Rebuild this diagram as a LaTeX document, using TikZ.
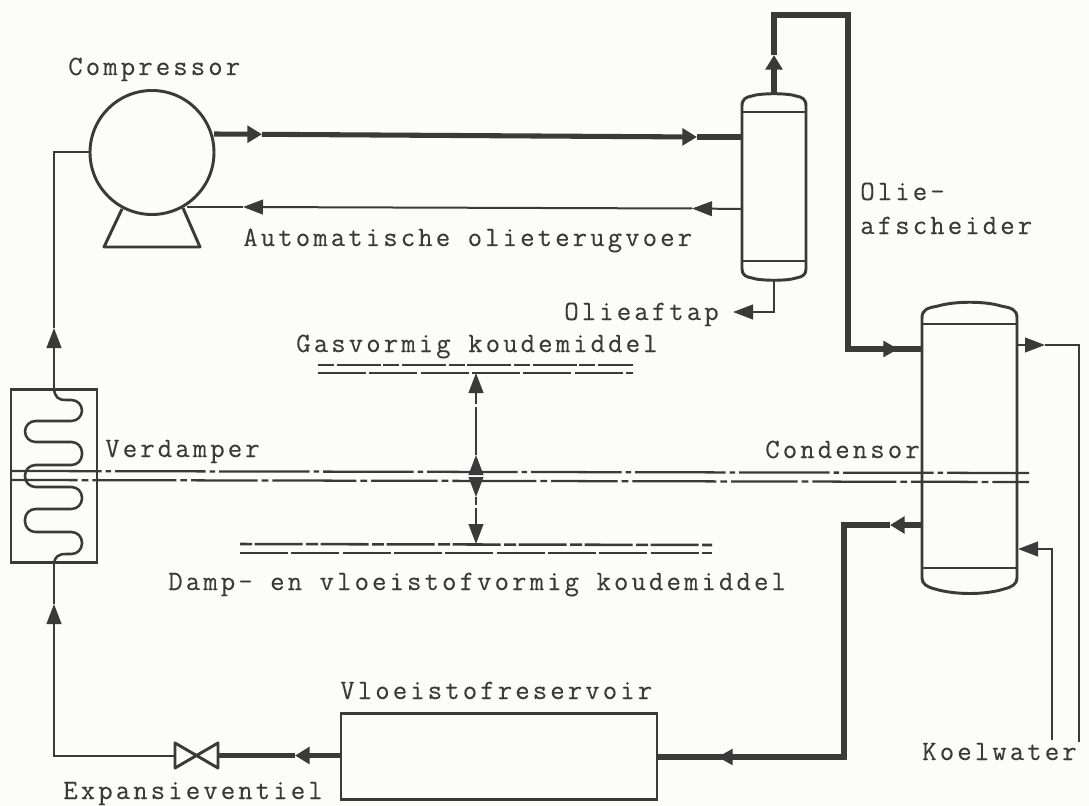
\documentclass[tikz,border=0pt]{standalone}
\usepackage{fontspec}
\newfontfamily\tw[LetterSpace=11,FakeBold=0.12]{Latin Modern Mono}
\usetikzlibrary{arrows.meta}
\definecolor{ink}{HTML}{3A3A3A}
\definecolor{paper}{HTML}{FCFCFB}
\tikzset{
  x=0.75pt,y=-0.75pt,
  fatpipe/.style={draw=ink,line width=4.4pt,miter limit=10},
  midpipe/.style={draw=ink,line width=3.8pt},
  thinpipe/.style={draw=ink,line width=1.5pt},
  outline/.style={draw=ink,line width=2.2pt},
  label/.style={anchor=base west,inner sep=0pt,text=ink,font=\tw\fontsize{21pt}{24pt}\selectfont},
  tipA/.style={-{Triangle[length=15pt,width=11pt,color=ink]}},
  tipB/.style={-{Triangle[length=11pt,width=12.5pt,color=ink]}},
  ghost/.style={inner sep=0pt,outer sep=0pt},
  centerline/.style={draw=ink,line width=1.7pt},
  flowline/.style={draw=ink,line width=1.9pt},
}
\begin{document}
\begin{tikzpicture}
\useasboundingbox (0,0) rectangle (1089,806);
\fill[paper] (0,0) rectangle (1089,806);

% --- equipment
\node[ghost,circle,outline,fill=paper,minimum size=93pt] (comp) at (152,152.5) {};
\draw[outline,line join=round] (122,209) -- (104,247) -- (200,247) -- (183,208);
\node[ghost,rectangle,outline,minimum width=64.5pt,minimum height=129.75pt] (evap) at (54,476) {};
\node[ghost,rectangle,outline,minimum width=237pt,minimum height=64.5pt] (res) at (499,756.5) {};
\node[ghost,minimum width=32.25pt,minimum height=18.75pt] (valve) at (196.5,755.5) {};
\draw[outline,line join=round] (valve.north west) -- (valve.south west) -- (valve.north east) -- (valve.south east) -- cycle;
\node[ghost,minimum width=48pt,minimum height=141pt] (sep) at (774,187) {};
\node[ghost,minimum width=71.25pt,minimum height=219pt] (cond) at (969.5,448) {};

% separator vessel
\draw[outline] (742,112) -- (742,106) .. controls (742,99) and (746,97) .. (752,96)
  .. controls (760,93) and (788,93) .. (796,96) .. controls (802,97) and (806,99) .. (806,106)
  -- (806,269) .. controls (806,275) and (802,277) .. (796,278)
  .. controls (788,281) and (760,281) .. (752,278) .. controls (746,277) and (742,275) .. (742,269) -- cycle;
\draw[outline] (742,112) -- (806,112);
\draw[outline] (742,261) -- (806,261);

% condenser vessel
\draw[outline] (922,318) .. controls (922,309) and (928,308) .. (938,306)
  .. controls (955,301) and (985,301) .. (1001,306) .. controls (1011,308) and (1017,309) .. (1017,318)
  -- (1017,578) .. controls (1017,584) and (1012,587) .. (1004,589)
  .. controls (985,595) and (955,595) .. (935,589) .. controls (927,587) and (922,584) .. (922,578) -- cycle;
\draw[outline] (922,324) -- (1017,324);
\draw[outline] (922,568) -- (1017,568);

% evaporator coil
\draw[draw=ink,line width=1.9pt] (54,389) .. controls (55,397) and (58,400) .. (66,400);
\draw[draw=ink,line width=1.9pt,rounded corners=7.9pt] (66,400)
  -- (82,400) -- (82,421) -- (25,421) -- (25,442) -- (82,442) -- (82,465) -- (25,465) -- (25,487)
  -- (82,487) -- (82,509) -- (25,509) -- (25,532) -- (82,532) -- (82,554) -- (66,554);
\draw[draw=ink,line width=1.9pt] (66,554) .. controls (58,554) and (55,557) .. (54,563);

% --- connector points
\coordinate (compOut) at (214,134);
\coordinate (a1) at (262,134.3);
\coordinate (a2) at (697,137);
\coordinate (sepIn) at (742,137);
\coordinate (sepTop) at (774,93);
\coordinate (a3) at (774,55);
\coordinate (c1) at (774,15);
\coordinate (c2) at (848,15);
\coordinate (c3) at (848,349);
\coordinate (a4) at (898,349);
\coordinate (condIn) at (922,349);
\coordinate (condOut) at (922,525);
\coordinate (a5) at (890,525);
\coordinate (c4) at (844,525);
\coordinate (c5) at (844,757);
\coordinate (a6) at (718,757);
\coordinate (resOut) at (657,757);
\coordinate (resIn) at (341,755.5);
\coordinate (a7) at (295,755.5);
\coordinate (c6) at (54,755.5);
\coordinate (a8) at (54,604);
\coordinate (evapIn) at (54,563);
\coordinate (evapOut) at (54,389);
\coordinate (a9) at (54,328);
\coordinate (c7) at (54,152);
\coordinate (compIn) at (90,152);
\coordinate (sepRet) at (742,209);
\coordinate (a10) at (692,208.5);
\coordinate (a11) at (243,207);
\coordinate (compRet) at (187,207);
\coordinate (sepBot) at (774,281);
\coordinate (c8) at (774,312);
\coordinate (a12) at (733,312);
\coordinate (cwOutS) at (1017,345);
\coordinate (a13) at (1045,345);
\coordinate (c9) at (1079,345);
\coordinate (cwOutE) at (1079,742);
\coordinate (cwInE) at (1052,740);
\coordinate (c10) at (1052,549);
\coordinate (a14) at (1018,549);

% --- thick connectors
\draw[midpipe,tipB] (compOut) -- (a1);
\draw[midpipe,tipB] (a1) -- (a2);
\draw[midpipe] (a2) -- (sepIn);
\draw[fatpipe,tipB] (sepTop) -- (a3);
\draw[fatpipe,line join=miter] (a3) -- (c1) -- (c2) -- (c3) -- (condIn);
\draw[draw=ink,line width=0pt,tipB] (c3) -- (a4);
\draw[fatpipe,tipB] (condOut) -- (a5);
\draw[fatpipe,line join=miter] (a5) -- (c4) -- (c5) -- (resOut);
\draw[draw=ink,line width=0pt,tipB] (c5) -- (a6);
\draw[fatpipe,tipB] (resIn) -- (a7);
\draw[fatpipe] (a7) -- (valve.east);

% --- thin connectors
\draw[thinpipe,line join=miter,tipA] (valve.west) -- (c6) -- (a8);
\draw[thinpipe] (a8) -- (evapIn);
\draw[thinpipe,tipA] (evapOut) -- (a9);
\draw[thinpipe,line join=miter] (a9) -- (c7) -- (compIn);
\draw[thinpipe,tipA] (sepRet) -- (a10);
\draw[thinpipe,tipA] (a10) -- (a11);
\draw[thinpipe] (a11) -- (compRet);
\draw[thinpipe,tipA] (sepBot) -- (c8) -- (a12);
\draw[thinpipe,tipA] (cwOutS) -- (a13);
\draw[thinpipe,line join=miter] (a13) -- (c9) -- (cwOutE);
\draw[thinpipe,tipA] (cwInE) -- (c10) -- (a14);

% --- level lines
\coordinate (gL1) at (318,365); \coordinate (gR1) at (633,365);
\coordinate (gL2) at (318,373); \coordinate (gR2) at (633,373);
\coordinate (dL1) at (240,544); \coordinate (dR1) at (712,545);
\coordinate (dL2) at (240,553); \coordinate (dR2) at (712,553);
\coordinate (mL1) at (11,471); \coordinate (mR1) at (1029,473);
\coordinate (mL2) at (11,480); \coordinate (mR2) at (1029,482);
\draw[flowline,dash pattern=on 12pt off 2pt on 33pt off 2pt] (gL1) -- (gR1);
\draw[flowline,dash pattern=on 36pt off 2.5pt] (gL2) -- (gR2);
\draw[flowline,dash pattern=on 9pt off 2pt on 36pt off 2.5pt] (dL1) -- (dR1);
\draw[flowline,dash pattern=on 36pt off 2.5pt] (dL2) -- (dR2);
\draw[centerline,dash pattern=on 68pt off 3pt on 4pt off 3pt] (mL1) -- (mR1);
\draw[centerline,dash pattern=on 50pt off 3pt on 5pt off 3pt on 63pt off 3pt on 5pt off 3pt] (mL2) -- (mR2);

% --- level arrows
\coordinate (v1) at (476,473); \coordinate (v1t) at (476,455);
\coordinate (v2) at (476,373);
\coordinate (v3) at (476,481); \coordinate (v3t) at (476,497);
\coordinate (v4) at (476,544);
\draw[thinpipe,tipA] (v1) -- (v1t);
\draw[thinpipe,dash pattern=on 36pt off 2.5pt,tipA] (v1t) -- (v2);
\draw[thinpipe,tipA] (v3) -- (v3t);
\draw[thinpipe,dash pattern=on 6pt off 2.5pt on 30pt off 2pt,tipA] (v3t) -- (v4);

% --- labels
\node[label] (t1) at (68,75) {Compressor};
\node[label] (t2) at (243,246) {Automatische olieterugvoer};
\node[label] (t3) at (860,200) {Olie-};
\node[label] (t4) at (860,234) {afscheider};
\node[label] (t5) at (564,320) {Olieaftap};
\node[label] (t6) at (296,352) {Gasvormig koudemiddel};
\node[label] (t7) at (105,457) {Verdamper};
\node[label] (t8) at (765,458) {Condensor};
\node[label] (t9) at (168,590) {Damp- en vloeistofvormig koudemiddel};
\node[label] (t10) at (340,699) {Vloeistofreservoir};
\node[label] (t11) at (922,760) {Koelwater};
\node[label] (t12) at (63,799) {Expansieventiel};
\end{tikzpicture}
\end{document}
